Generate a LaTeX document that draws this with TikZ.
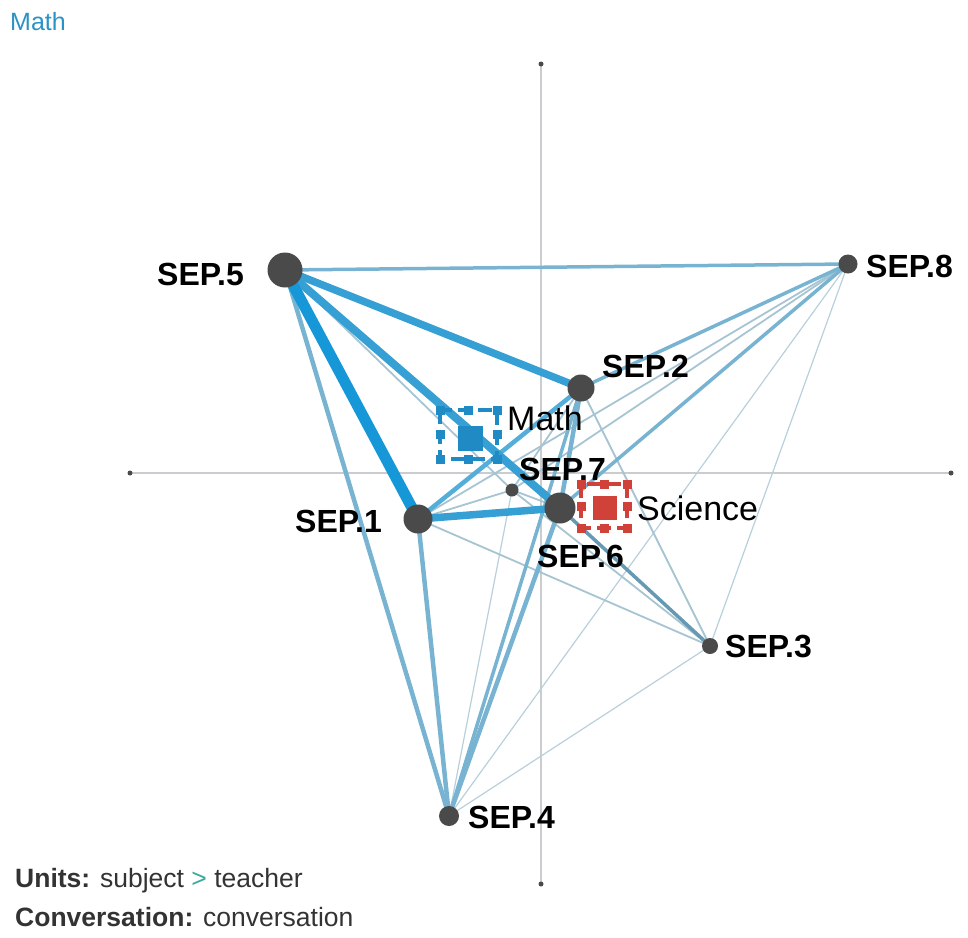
\documentclass[tikz,border=0pt]{standalone}
\usepackage{fontspec}
\setmainfont{Liberation Sans}
\usetikzlibrary{backgrounds}
\definecolor{dotgrey}{HTML}{4A4A4A}
\definecolor{axisgrey}{HTML}{C9CDD0}
\definecolor{eA}{HTML}{1597D8}
\definecolor{eB}{HTML}{36A0D4}
\definecolor{eC}{HTML}{78B4D2}
\definecolor{eD}{HTML}{A6C4D2}
\definecolor{mathblue}{HTML}{1F8AC4}
\definecolor{scired}{HTML}{D0413A}
\definecolor{txtgrey}{HTML}{333333}
\definecolor{teal}{HTML}{3AA99F}
\definecolor{titleblue}{HTML}{2A93C6}
\tikzset{
  dot/.style={circle, fill=dotgrey, inner sep=0pt, draw=none},
  seplabel/.style={anchor=base west, inner sep=0pt, font=\fontsize{32}{32}\selectfont\bfseries, text=black},
  grouplabel/.style={anchor=base west, inner sep=0pt, font=\fontsize{34}{34}\selectfont, text=black},
  axisline/.style={draw=axisgrey, line width=1.2pt},
  axisend/.style={circle, fill=dotgrey, inner sep=0pt, minimum size=5pt},
  wA/.style={draw=eA, line width=11pt},
  wB/.style={draw=eB, line width=8pt},
  wC/.style={draw=eC, line width=4.5pt},
  wCs/.style={draw=eC, line width=3.5pt},
  wD/.style={draw=eD, line width=1.8pt},
  wE/.style={draw=eD!80, line width=1.2pt},
  handle/.style={rectangle, inner sep=0pt, minimum size=9pt},
}
\begin{document}
\begin{tikzpicture}[x=1pt,y=-1pt]
\useasboundingbox (0,0) rectangle (968,937);
% axes ends
\node[axisend] (ax1) at (130,473) {};
\node[axisend] (ax2) at (951,473) {};
\node[axisend] (ay1) at (541,64) {};
\node[axisend] (ay2) at (541,884) {};
% SEP nodes
\node[dot, minimum size=35pt] (s5) at (285,270) {};
\node[dot, minimum size=19pt] (s8) at (848,264) {};
\node[dot, minimum size=27pt] (s2) at (581,388) {};
\node[dot, minimum size=13pt] (s7) at (512,490) {};
\node[dot, minimum size=29pt] (s1) at (418,519) {};
\node[dot, minimum size=31pt] (s6) at (560,508) {};
\node[dot, minimum size=16pt] (s3) at (710,646) {};
\node[dot, minimum size=20pt] (s4) at (449,816) {};
\begin{scope}[on background layer, line cap=round]
  \draw[axisline] (ax1.center) -- (ax2.center);
  \draw[axisline] (ay1.center) -- (ay2.center);
  % thin edges
  \draw[wE] (s7.center) -- (s4.center);
  \draw[wE] (s8.center) -- (s4.center);
  \draw[wE] (s8.center) -- (s3.center);
  \draw[wE] (s3.center) -- (s4.center);
  \draw[wD] (s5.center) -- (s7.center);
  \draw[wD] (s1.center) -- (s7.center);
  \draw[wD] (s1.center) -- (s3.center);
  \draw[wD] (s2.center) -- (s7.center);
  \draw[wD] (s2.center) -- (s3.center);
  \draw[wD] (s7.center) -- (s8.center);
  \draw[wD] (s7.center) -- (s3.center);
  \draw[wD] (s1.center) -- (s8.center);
  \draw[wD] (s6.center) -- (s7.center);
  % medium edges
  \draw[wCs] (s5.center) -- (s8.center);
  \draw[wCs] (s2.center) -- (s8.center);
  \draw[wCs] (s6.center) -- (s8.center);
  \draw[wCs, draw=eC!85!black] (s6.center) -- (s3.center);
  \draw[wC] (s5.center) -- (s4.center);
  \draw[wC] (s1.center) -- (s4.center);
  \draw[wCs] (s2.center) -- (s4.center);
  \draw[wC] (s6.center) -- (s4.center);
  \draw[wC] (s2.center) -- (s6.center);
  \draw[wC, draw=eB!85] (s1.center) -- (s2.center);
  % thick edges
  \draw[wB, line width=7.5pt] (s5.center) -- (s2.center);
  \draw[wB, line width=7.5pt] (s1.center) -- (s6.center);
  \draw[wB] (s5.center) -- (s6.center);
  \draw[wA] (s5.center) -- (s1.center);
\end{scope}
% Math group marker
\node[rectangle, fill=mathblue, minimum size=25pt, inner sep=0pt] (mathsq) at (470,438) {};
\draw[mathblue, line width=3.2pt, dash pattern=on 14pt off 6pt] (440,410) rectangle (497,459);
\foreach \p in {(440,410),(468,410),(497,410),(440,434),(497,434),(440,459),(468,459),(497,459)}
  \node[handle, fill=mathblue] at \p {};
\node[grouplabel] (mathlbl) at (507,430) {Math};
% Science group marker
\node[rectangle, fill=scired, minimum size=24pt, inner sep=0pt] (scisq) at (605,508) {};
\draw[scired, line width=3.2pt, dash pattern=on 14pt off 6pt] (581,484) rectangle (627,528);
\foreach \p in {(581,484),(604,484),(627,484),(581,506),(627,506),(581,528),(604,528),(627,528)}
  \node[handle, fill=scired] at \p {};
\node[grouplabel] (scilbl) at (637,520) {Science};
% SEP labels
\node[seplabel] (l5) at (157,285) {SEP.5};
\node[seplabel] (l8) at (866,277) {SEP.8};
\node[seplabel] (l2) at (602,377) {SEP.2};
\node[seplabel] (l7) at (519,480) {SEP.7};
\node[seplabel] (l1) at (295,532) {SEP.1};
\node[seplabel] (l6) at (537,567) {SEP.6};
\node[seplabel] (l3) at (725,657) {SEP.3};
\node[seplabel] (l4) at (468,828) {SEP.4};
% title and legend
\node[anchor=base west, inner sep=0pt, font=\fontsize{25}{25}\selectfont, text=titleblue] (title) at (10,30) {Math};
\node[anchor=base west, inner sep=0pt, font=\fontsize{26.5}{26.5}\selectfont, text=txtgrey] (units) at (15,887) {\textbf{Units:} subject \textcolor{teal}{>} teacher};
\node[anchor=base west, inner sep=0pt, font=\fontsize{26.5}{26.5}\selectfont, text=txtgrey] (conv) at (15,926) {\textbf{Conversation:} conversation};
\end{tikzpicture}
\end{document}
